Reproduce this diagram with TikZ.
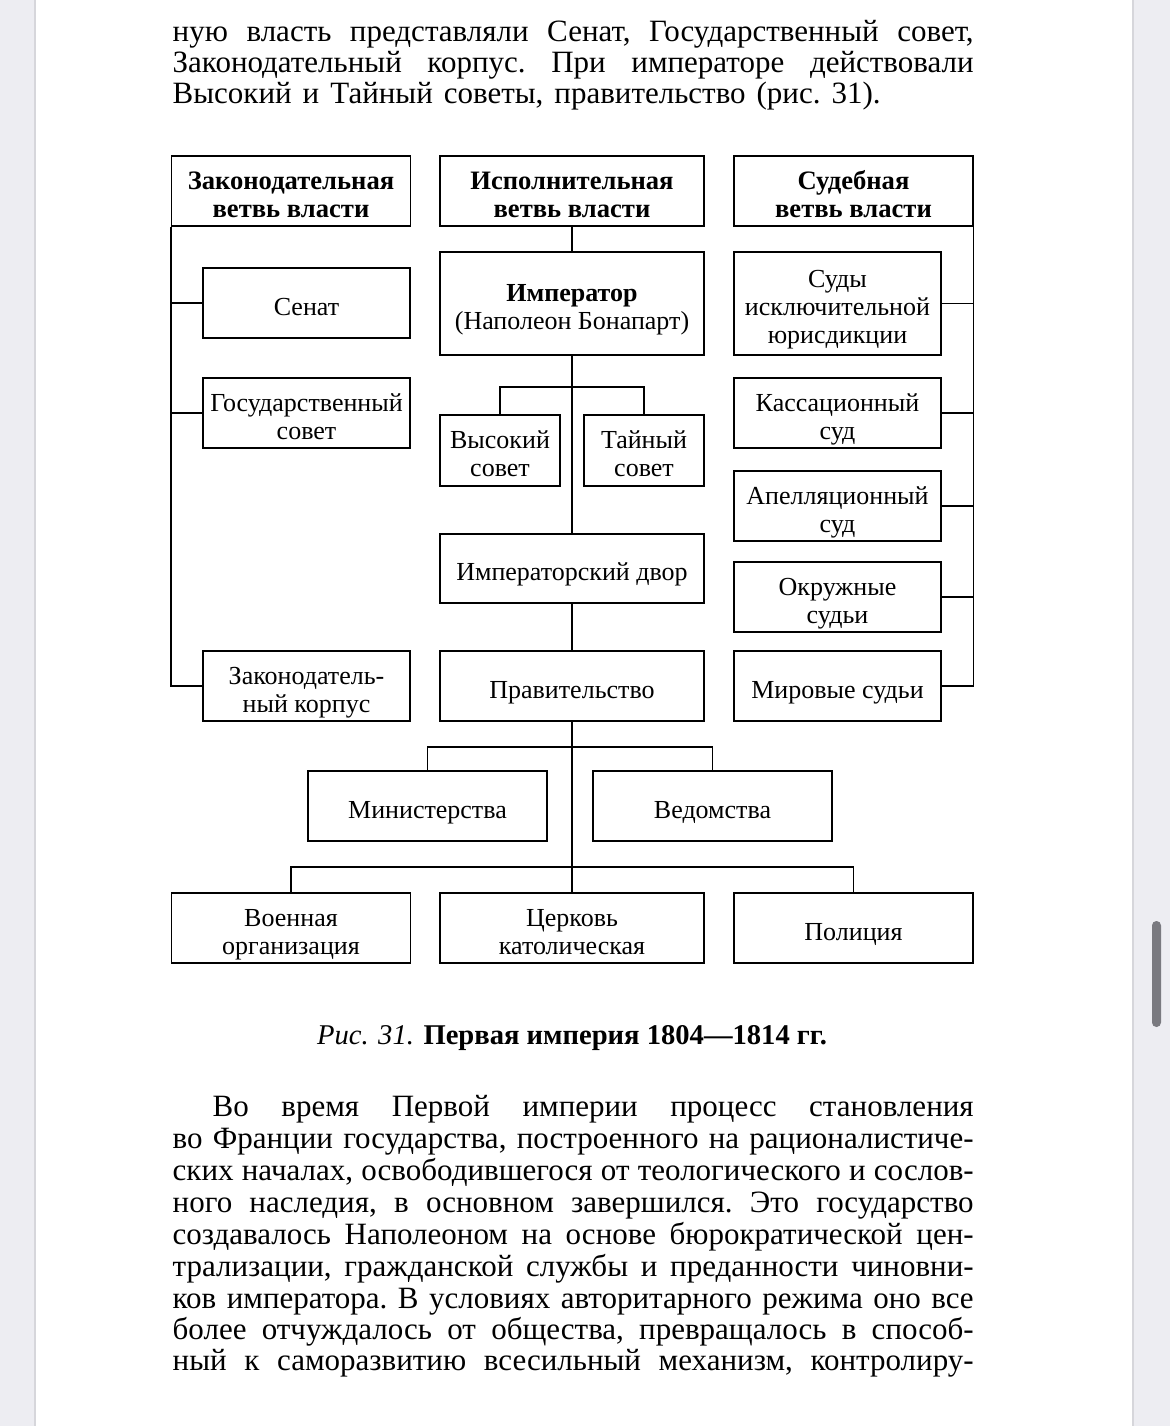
\documentclass[tikz,border=0pt]{standalone}
\usepackage{fontspec}
\setmainfont{Liberation Serif}
\usetikzlibrary{calc}
\definecolor{PageGray}{RGB}{237,237,242}
\definecolor{EdgeGray}{RGB}{214,214,219}
\definecolor{BarGray}{RGB}{122,122,128}
\newcommand{\bodyfont}{\fontsize{15.5}{16}\selectfont\frenchspacing}
\newcommand{\boxfont}{\fontsize{13}{14}\selectfont}
\newcommand{\headfont}{\fontsize{13.3}{14}\selectfont\bfseries}

\begin{document}
\begin{tikzpicture}[x=0.5pt,y=-0.5pt,line width=0.7pt,
  box/.style={draw,inner sep=0pt,align=center,font=\boxfont,
    execute at begin node={\rule{0pt}{15.5pt}},
    execute at end node={\rule[-3.5pt]{0pt}{3.5pt}}},
  two/.style={execute at begin node={\rule{0pt}{29.5pt}}},
  three/.style={execute at begin node={\rule{0pt}{43.5pt}}},
  wide/.style={box,minimum width=132pt,minimum height=35pt},
  mid/.style={box,minimum width=119.5pt,minimum height=35pt},
  side/.style={box,minimum width=103.5pt,minimum height=35pt},
  txt/.style={anchor=base west,inner sep=0pt,font=\bodyfont}]
\useasboundingbox (0,0) rectangle (1170,1426);
% page and scroll bar
\fill[PageGray] (0,0) rectangle (1170,1426);
\fill[white] (35,0) rectangle (1133,1426);
\draw[EdgeGray,line width=1pt] (35,0) -- (35,1426) (1133,0) -- (1133,1426);
\fill[BarGray,rounded corners=2.2pt] (1152,921) rectangle (1161,1027);

% text above
\node[txt] (t1) at (172,41) {\makebox[400.5pt][s]{ную власть представляли Сенат, Государственный совет,}};
\node[txt] (t2) at (172,72) {\makebox[400.5pt][s]{Законодательный корпус. При императоре действовали}};
\node[txt] (t3) at (172,103) {\makebox[354pt][s]{Высокий и Тайный советы, правительство (рис. 31).}};

% headers
\node[mid,two,font=\headfont] (hleg) at (291,191) {Законодательная\\ветвь власти};
\node[wide,two,font=\headfont] (hexe) at (572,191) {Исполнительная\\ветвь власти};
\node[mid,two,font=\headfont] (hjud) at (853.5,191) {Судебная\\ветвь власти};

% legislative
\node[side] (senat) at (306.5,303) {Сенат};
\node[side,two] (gossov) at (306.5,413) {Государственный\\совет};
\node[side,two] (zakk) at (306.5,686) {Законодатель-\\ный корпус};

% executive
\node[wide,two,minimum height=51.5pt] (imp) at (572,303.5) {\textbf{Император}\\(Наполеон Бонапарт)};
\node[box,two,minimum width=60pt,minimum height=35.5pt] (vys) at (500,450.5) {Высокий\\совет};
\node[box,two,minimum width=60pt,minimum height=35.5pt] (tain) at (644,450.5) {Тайный\\совет};
\node[wide,minimum height=34.5pt] (dvor) at (572,568.5) {Императорский двор};
\node[wide] (prav) at (572,686) {Правительство};
\node[mid] (mins) at (427.5,806) {Министерства};
\node[mid] (ved) at (712.5,806) {Ведомства};
\node[mid,two] (voen) at (291,928) {Военная\\организация};
\node[wide,two] (cerk) at (572,928) {Церковь\\католическая};
\node[mid] (pol) at (853.5,928) {Полиция};

% judicial
\node[side,three,minimum height=51.5pt] (sudy) at (837.5,303.5) {Суды\\исключительной\\юрисдикции};
\node[side,two] (kass) at (837.5,413) {Кассационный\\суд};
\node[side,two] (apel) at (837.5,506) {Апелляционный\\суд};
\node[side,two] (okr) at (837.5,597) {Окружные\\судьи};
\node[side] (mir) at (837.5,686) {Мировые судьи};

% branch points
\coordinate (ba) at (572,387);
\coordinate (bb) at (572,747);
\coordinate (bc) at (572,867);

% lines
\draw (hleg.south west) |- (zakk.west);
\foreach \n in {senat,gossov} \draw (\n.west) -- (\n.west -| hleg.south west);
\draw (hjud.south east) |- (mir.east);
\foreach \n in {sudy,kass,apel,okr} \draw (\n.east) -- (\n.east -| hjud.south east);
\draw (hexe.south) -- (imp.north);
\draw (imp.south) -- (dvor.north);
\draw (dvor.south) -- (prav.north);
\draw (prav.south) -- (cerk.north);
\draw (vys.north) |- (ba) -| (tain.north);
\draw (mins.north) |- (bb) -| (ved.north);
\draw (voen.north) |- (bc) -| (pol.north);

% caption
\node[inner sep=0pt,anchor=base,font=\fontsize{14.3}{16}\selectfont] (cap) at (572,1044) {\textit{Рис. 31.} \textbf{Первая империя 1804—1814 гг.}};

% text below
\node[txt] (b1) at (212,1116) {\makebox[380.5pt][s]{Во время Первой империи процесс становления}};
\node[txt] (b2) at (172,1148) {\makebox[400.5pt][s]{во Франции государства, построенного на рационалистиче-}};
\node[txt] (b3) at (172,1180) {\makebox[400.5pt][s]{ских началах, освободившегося от теологического и сослов-}};
\node[txt] (b4) at (172,1212) {\makebox[400.5pt][s]{ного наследия, в основном завершился. Это государство}};
\node[txt] (b5) at (172,1244) {\makebox[400.5pt][s]{создавалось Наполеоном на основе бюрократической цен-}};
\node[txt] (b6) at (172,1276) {\makebox[400.5pt][s]{трализации, гражданской службы и преданности чиновни-}};
\node[txt] (b7) at (172,1308) {\makebox[400.5pt][s]{ков императора. В условиях авторитарного режима оно все}};
\node[txt] (b8) at (172,1339) {\makebox[400.5pt][s]{более отчуждалось от общества, превращалось в способ-}};
\node[txt] (b9) at (172,1370) {\makebox[400.5pt][s]{ный к саморазвитию всесильный механизм, контролиру-}};
\end{tikzpicture}
\end{document}
